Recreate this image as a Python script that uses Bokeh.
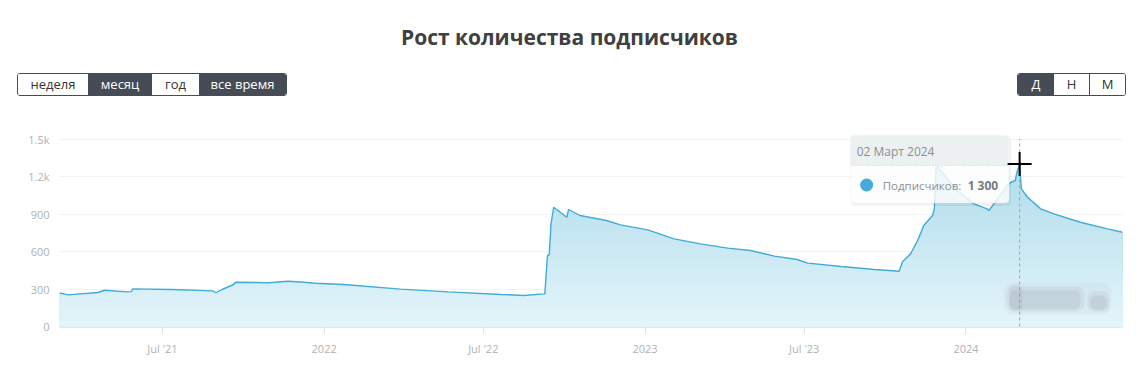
import numpy as np
import pandas as pd
from bokeh.plotting import figure
from bokeh.models import Range1d, FixedTicker, BoxAnnotation, Div
from bokeh.layouts import column
from bokeh.embed import file_html
from bokeh.resources import INLINE
from bokeh.core.properties import value

# ---------------- data ----------------
dates = [
    "2021-03-06", "2021-03-16", "2021-04-19", "2021-04-26", "2021-05-22", "2021-05-27",
    "2021-05-28", "2021-07-12", "2021-08-27", "2021-08-31", "2021-09-07", "2021-09-20",
    "2021-09-22", "2021-10-30", "2021-11-21", "2021-12-05", "2021-12-22", "2022-01-23",
    "2022-03-29", "2022-05-22", "2022-07-21", "2022-08-16", "2022-09-08", "2022-09-09",
    "2022-09-12", "2022-09-14", "2022-09-16", "2022-09-17", "2022-09-19", "2022-10-04",
    "2022-10-06", "2022-10-19", "2022-11-18", "2022-12-04", "2023-01-04", "2023-02-03",
    "2023-03-05", "2023-04-05", "2023-05-01", "2023-05-28", "2023-06-23", "2023-07-05",
    "2023-08-12", "2023-09-19", "2023-10-17", "2023-10-21", "2023-10-30", "2023-11-01",
    "2023-11-05", "2023-11-07", "2023-11-14", "2023-11-24", "2023-11-26", "2023-11-28",
    "2023-11-30", "2023-12-03", "2023-12-22", "2024-01-10", "2024-01-25", "2024-01-27",
    "2024-02-06", "2024-02-17", "2024-02-21", "2024-02-26", "2024-02-28", "2024-03-02",
    "2024-03-04", "2024-03-11", "2024-03-26", "2024-04-10", "2024-05-10", "2024-06-10",
    "2024-06-27",
]
subscribers = [
    268, 253, 272, 290, 277, 279,
    301, 296, 285, 270, 296, 336,
    354, 350, 362, 356, 346, 336,
    299, 277, 256, 248, 261, 262,
    568, 573, 822, 862, 954, 874,
    936, 888, 848, 813, 773, 701,
    661, 627, 608, 563, 536, 507,
    480, 456, 442, 520, 581, 608,
    661, 688, 808, 888, 941, 1274,
    1282, 1248, 1088, 981, 941, 928,
    1021, 1128, 1154, 1168, 1234, 1300,
    1101, 1034, 941, 901, 834, 781,
    754,
]
x_tick_dates = ["2021-07-01", "2022-01-01", "2022-07-01", "2023-01-01", "2023-07-01", "2024-01-01"]
x_tick_labels = ["Jul '21", "2022", "Jul '22", "2023", "Jul '23", "2024"]
y_ticks = [0, 300, 600, 900, 1200, 1500]
y_tick_labels = ["0", "300", "600", "900", "1.2k", "1.5k"]
title_text = "Рост количества подписчиков"
period_buttons = ["неделя", "месяц", "год", "все время"]
scale_buttons = ["Д", "Н", "М"]
months_ru = ["Январь", "Февраль", "Март", "Апрель", "Май", "Июнь", "Июль",
             "Август", "Сентябрь", "Октябрь", "Ноябрь", "Декабрь"]
series_name = "Подписчиков"

# ---------------- derived ----------------
dt = pd.to_datetime(dates)
x_ms = dt.values.astype("datetime64[ms]").astype("int64").astype(float)
vals = np.array(subscribers, dtype=float)
tick_ms = pd.to_datetime(x_tick_dates).values.astype("datetime64[ms]").astype("int64").astype(float)

W, H_HEAD, H_FIG = 1139, 110, 261
LEFT, RIGHT = 59, 17
TOP_B, BOT_B = 15, 44
FRAME_TOP = H_HEAD + TOP_B          # page px
FRAME_BOT = H_HEAD + H_FIG - BOT_B   # page px

DARK = "#464c55"
FONT = "Open Sans"

# ---------------- header (title + buttons) ----------------
def seg_html(labels, widths, dark_flags, left, total_w):
    parts = []
    x = 0
    for i, (lab, w, dk) in enumerate(zip(labels, widths, dark_flags)):
        bg = DARK if dk else "#ffffff"
        fg = "#ffffff" if dk else "#333333"
        sep = ""
        if i > 0 and not dk and not dark_flags[i - 1]:
            sep = "border-left:1px solid %s;" % DARK
        parts.append(
            '<div style="position:absolute;left:%dpx;top:0;width:%dpx;height:21px;'
            'background:%s;color:%s;text-align:center;line-height:21px;font-size:13px;%s'
            'box-sizing:border-box;">%s</div>' % (x, w, bg, fg, sep, lab))
        x += w
    return ('<div style="position:absolute;left:%dpx;top:73px;width:%dpx;height:23px;'
            'border:1px solid %s;border-radius:3px;overflow:hidden;box-sizing:border-box;'
            'background:#fff;">%s</div>' % (left, total_w, DARK, "".join(parts)))

head_html = (
    '<div style="position:relative;width:%dpx;height:%dpx;font-family:\'%s\';">' % (W, H_HEAD, FONT)
    + '<div style="position:absolute;left:0;top:22px;width:%dpx;text-align:center;'
      'font-size:21px;line-height:30px;font-weight:700;color:#404040;">%s</div>' % (W, title_text)
    + seg_html(period_buttons, [70, 64, 47, 87], [False, True, False, True], 17, 270)
    + seg_html(scale_buttons, [36, 35, 36], [True, False, False], 1017, 109)
    + '</div>'
)
header = Div(text=head_html, width=W, height=H_HEAD, margin=0)

# ---------------- figure ----------------
p = figure(width=W, height=H_FIG, x_axis_type="datetime",
           x_range=Range1d(x_ms[0], x_ms[-1]), y_range=Range1d(-8, 1608),
           output_backend="svg", toolbar_location=None,
           min_border_left=LEFT, min_border_right=RIGHT,
           min_border_top=TOP_B, min_border_bottom=BOT_B, margin=0)
p.outline_line_color = None
p.background_fill_color = "white"
p.border_fill_color = "white"

# pixel-space ranges for overlay decorations (tooltip, cursor, watermark)
p.extra_x_ranges = {"px": Range1d(LEFT, W - RIGHT)}
p.extra_y_ranges = {"px": Range1d(FRAME_BOT, FRAME_TOP)}

# gradient fill made of stacked bands
c_bot = np.array([229, 245, 251])
c_top = np.array([163, 215, 232])
n_bands = 40
levels = np.linspace(0, 1600, n_bands + 1)[1:]
for hi in levels[::-1]:
    t = (hi - 20) / 1600.0
    c = (c_bot + (c_top - c_bot) * t).astype(int)
    col = "#%02x%02x%02x" % tuple(c)
    y2 = vals if hi == levels[-1] else np.minimum(vals, hi)
    p.varea(x=x_ms, y1=np.zeros_like(vals), y2=y2, fill_color=col, fill_alpha=1.0)

p.line(x_ms, vals, line_color="#43acd6", line_width=1.4)

# blurred watermark (soft grey blotches)
for (l, r, t, b, a, rad) in [(1003, 1111, 282, 314, 0.06, 10), (1006, 1084, 286, 311, 0.10, 8),
                             (1009, 1080, 290, 309, 0.14, 6), (1087, 1109, 291, 311, 0.12, 6),
                             (1090, 1106, 295, 309, 0.14, 5), (1009, 1022, 284, 310, 0.10, 5)]:
    p.add_layout(BoxAnnotation(left=l, right=r, top=t, bottom=b, x_range_name="px", y_range_name="px",
                               fill_color="#8a8896", fill_alpha=a, line_color=None,
                               border_radius=rad))

# axes
p.yaxis.ticker = FixedTicker(ticks=y_ticks)
p.yaxis.major_label_overrides = {float(t): l for t, l in zip(y_ticks, y_tick_labels)}
p.yaxis.axis_line_color = None
p.yaxis.major_tick_line_color = None
p.yaxis.minor_tick_line_color = None
p.yaxis.major_tick_out = 0
p.yaxis.major_tick_in = 0
p.yaxis.major_label_standoff = 10
p.yaxis.major_label_text_font = FONT
p.yaxis.major_label_text_font_size = "11px"
p.yaxis.major_label_text_color = "#adb3b8"

p.xaxis.ticker = FixedTicker(ticks=list(tick_ms))
p.xaxis.major_label_overrides = {float(t): l for t, l in zip(tick_ms, x_tick_labels)}
p.xaxis.axis_line_color = "#e3e6e8"
p.xaxis.major_tick_line_color = "#dfe3e6"
p.xaxis.minor_tick_line_color = None
p.xaxis.major_tick_out = 6
p.xaxis.major_tick_in = 0
p.xaxis.major_label_standoff = 7
p.xaxis.major_label_text_font = FONT
p.xaxis.major_label_text_font_size = "11px"
p.xaxis.major_label_text_color = "#adb3b8"

p.ygrid.ticker = FixedTicker(ticks=y_ticks)
p.ygrid.grid_line_color = "#f1f3f4"
p.xgrid.visible = False

# hovered point (peak) crosshair
pk = int(np.argmax(vals))
px_x = LEFT + (x_ms[pk] - x_ms[0]) / (x_ms[-1] - x_ms[0]) * (W - LEFT - RIGHT)
p.segment(x0=[x_ms[pk]], y0=[0], x1=[x_ms[pk]], y1=[1500],
          line_color="#9da3a8", line_width=1, line_dash="3 3")

# tooltip
tl, tr = px_x - 169.5, px_x - 10.5
tt, tb, th = 134.5, 202.5, 165.0
p.add_layout(BoxAnnotation(left=tl + 1, right=tr + 2, top=tt + 2, bottom=tb + 3,
                           x_range_name="px", y_range_name="px",
                           fill_color="black", fill_alpha=0.05, line_color=None,
                           border_radius=4))
p.add_layout(BoxAnnotation(left=tl, right=tr, top=tt, bottom=tb,
                           x_range_name="px", y_range_name="px",
                           fill_color="white", fill_alpha=0.82, line_color="#e2e5e7",
                           line_width=1, border_radius=4))
p.add_layout(BoxAnnotation(left=tl + 0.5, right=tr - 0.5, top=tt + 0.5, bottom=th,
                           x_range_name="px", y_range_name="px",
                           fill_color="#e9edee", fill_alpha=0.85, line_color=None,
                           border_radius=(4, 4, 0, 0)))
sep = p.segment(x0=[tl + 1], x1=[tr - 1], y0=[th], y1=[th], x_range_name="px", y_range_name="px",
                line_color="#cfd4d7", line_width=1, line_dash="1 2")
sep.level = "overlay"

d = dt[pk]
date_label = "%02d %s %d" % (d.day, months_ru[d.month - 1], d.year)
val_label = "{:,}".format(int(vals[pk])).replace(",", " ")

r1 = p.text(x=[tl + 6.5], y=[150.5], text=[date_label], x_range_name="px", y_range_name="px",
            text_font=value(FONT), text_font_size="12px", text_color="#8a9196",
            text_align="left", text_baseline="middle")
r2 = p.scatter(x=[tl + 16.5], y=[184.5], x_range_name="px", y_range_name="px",
               size=13, marker="circle", fill_color="#45abd8", line_color=None)
r3 = p.text(x=[tl + 32.5], y=[185], text=[series_name + ":"], x_range_name="px", y_range_name="px",
            text_font=value(FONT), text_font_size="11.5px", text_color="#8a9196",
            text_align="left", text_baseline="middle")
r4 = p.text(x=[tl + 117.5], y=[185], text=[val_label], x_range_name="px", y_range_name="px",
            text_font=value(FONT), text_font_size="12px", text_color="#757c81",
            text_font_style="bold", text_align="left", text_baseline="middle")
# mouse cursor on the hovered point
r5 = p.scatter(x=[x_ms[pk]], y=[vals[pk]], marker="cross", size=24,
               line_color="black", line_width=2)
for r in (r1, r2, r3, r4, r5):
    r.level = "overlay"

layout = column(header, p, spacing=0, margin=0)
open("out.html", "w").write(file_html(layout, INLINE))
